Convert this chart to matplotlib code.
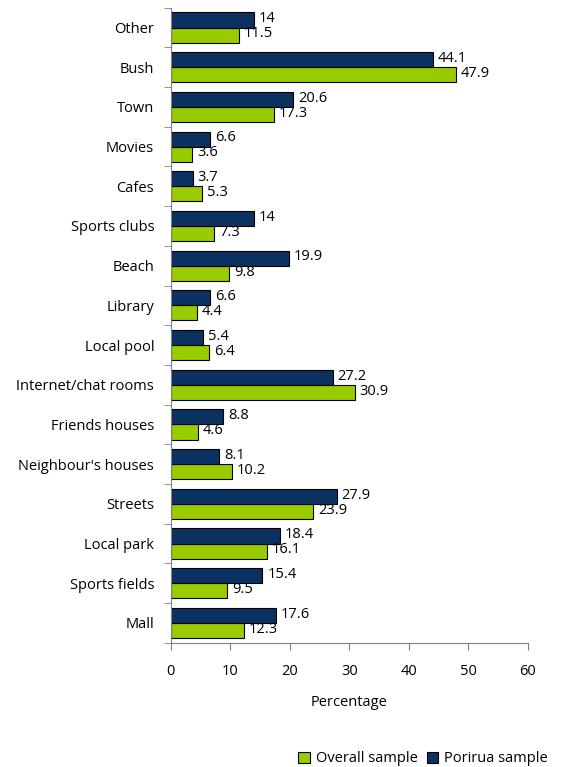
import numpy as np
import matplotlib
matplotlib.use('Agg')
import matplotlib.pyplot as plt

plt.rcParams['font.family'] = ['Open Sans', 'DejaVu Sans']

places = ['Mall', 'Sports fields', 'Local park', 'Streets', "Neighbour's houses",
          'Friends houses', 'Internet/chat rooms', 'Local pool', 'Library', 'Beach',
          'Sports clubs', 'Cafes', 'Movies', 'Town', 'Bush', 'Other']
overall = [12.3, 9.5, 16.1, 23.9, 10.2, 4.6, 30.9, 6.4, 4.4, 9.8, 7.3, 5.3, 3.6, 17.3, 47.9, 11.5]
porirua = [17.6, 15.4, 18.4, 27.9, 8.1, 8.8, 27.2, 5.4, 6.6, 19.9, 14, 3.7, 6.6, 20.6, 44.1, 14]

fig = plt.figure(figsize=(5.62, 7.67), dpi=100)
ax = fig.add_axes([0.304, 0.162, 0.635, 0.828])

y = np.arange(len(places))
h = 0.38
b1 = ax.barh(y - h / 2, overall, height=h, color='#99cc00', edgecolor='black', linewidth=0.8,
             label='Overall sample')
b2 = ax.barh(y + h / 2, porirua, height=h, color='#0b3160', edgecolor='black', linewidth=0.8,
             label='Porirua sample')

fs = 10.5
for bars, vals in [(b1, overall), (b2, porirua)]:
    for bar, v in zip(bars, vals):
        ax.text(bar.get_width() + 0.8, bar.get_y() + bar.get_height() / 2 + 0.03, '%g' % v,
                va='center', ha='left', fontsize=fs)

ax.set_xlim(0, 60)
ax.set_ylim(-0.5, len(places) - 0.5)
ax.set_xticks(range(0, 61, 10))
ax.set_yticks(y)
ax.set_yticklabels(places, fontsize=fs)
ax.tick_params(axis='y', length=0, pad=12)
ax.set_yticks(np.arange(-0.5, len(places), 1), minor=True)
ax.tick_params(axis='y', which='minor', length=5, direction='out', color='#808080')
ax.tick_params(axis='x', labelsize=fs, length=5, color='#808080', pad=10)
ax.set_xlabel('Percentage', fontsize=fs, labelpad=12)

for s in ['top', 'right']:
    ax.spines[s].set_visible(False)
for s in ['left', 'bottom']:
    ax.spines[s].set_color('#808080')

fig.legend(handles=[b1, b2], loc='lower right', bbox_to_anchor=(0.998, -0.016), ncol=2,
           frameon=False, fontsize=fs, handlelength=0.8, handleheight=0.8,
           handletextpad=0.4, columnspacing=0.6)

fig.savefig('out.png', dpi=100)
